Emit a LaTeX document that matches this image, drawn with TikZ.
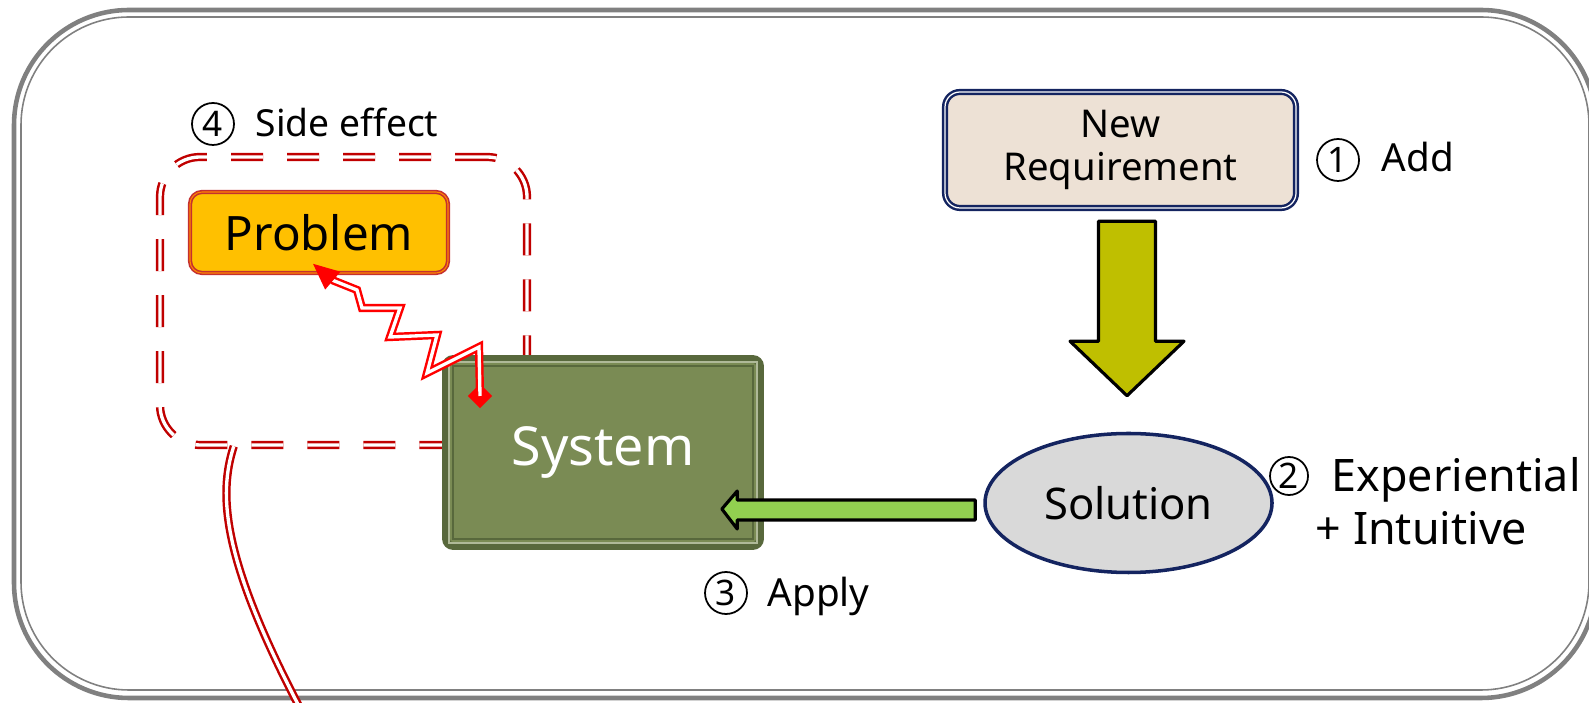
\documentclass[tikz,border=0pt]{standalone}
\usepackage{fontspec}
\setmainfont{Noto Sans}
\usetikzlibrary{arrows.meta,positioning,calc,shapes.geometric}

\definecolor{framegray}{RGB}{128,128,128}
\definecolor{reqfill}{RGB}{237,225,213}
\definecolor{navy}{RGB}{20,36,96}
\definecolor{probfill}{RGB}{255,192,0}
\definecolor{probedge}{RGB}{196,48,48}
\definecolor{sysfill}{RGB}{122,139,84}
\definecolor{sysedge}{RGB}{88,104,60}
\definecolor{arrowyellow}{RGB}{191,191,0}
\definecolor{arrowgreen}{RGB}{146,208,80}
\definecolor{solfill}{RGB}{217,217,217}
\definecolor{effectred}{RGB}{192,0,0}

\begin{document}
\begin{tikzpicture}[
        reqbox/.style={draw=navy, line width=0.7pt, double=white, double distance=0.35pt,
            fill=reqfill, rounded corners=0.15cm, minimum width=3.51cm, minimum height=1.16cm,
            align=center, font=\fontsize{10.9}{12.2}\selectfont},
        probbox/.style={draw=probedge, line width=0.45pt, double=probfill!70!red, double distance=0.3pt,
            fill=probfill, rounded corners=0.12cm, minimum width=2.58cm, minimum height=0.81cm,
            font=\fontsize{13.5}{16}\selectfont},
        sysbox/.style={draw=sysedge, line width=2.2pt, fill=sysfill, rounded corners=2pt,
            minimum width=3.14cm, minimum height=1.87cm, text=white,
            font=\fontsize{15.3}{18}\selectfont},
        solnode/.style={ellipse, draw=navy, line width=1pt, fill=solfill, inner sep=0pt,
            minimum width=2.87cm, minimum height=1.39cm, font=\fontsize{12.4}{14}\selectfont},
        effectbox/.style={draw=effectred, line width=0.7pt, double=white, double distance=0.95pt,
            dash pattern=on 0.32cm off 0.24cm, rounded corners=0.4cm,
            minimum width=3.67cm, minimum height=2.88cm},
        effectline/.style={draw=red, line width=0.7pt, double=white, double distance=0.95pt},
        blockarrow/.style={draw=black, line width=0.9pt, line join=round},
        stepnum/.style={circle, draw, line width=0.5pt, minimum size=0.42cm, inner sep=0pt,
            font=\fontsize{10}{12}\selectfont},
        steplabel/.style={anchor=base west, inner sep=0pt}
    ]
    \useasboundingbox (0,0) rectangle (15.89,7.02);

    % Outer frame
    \draw[framegray, line width=1.3pt, rounded corners=1.15cm] (0.14,0.04) rectangle (15.96,6.92);
    \draw[framegray, line width=0.45pt, rounded corners=1.08cm] (0.21,0.12) rectangle (15.89,6.85);

    % Side effect region
    \node[effectbox] (effect) at (3.435,4.01) {};
    \node[probbox] (prob) at (3.19,4.695) {Problem};
    \draw[draw=effectred, line width=0.7pt, double=white, double distance=0.95pt]
        ($(effect.south west)+(0.75,0)$) .. controls (2.18,2.07) and (2.22,1.42) .. (3.02,-0.10);

    % System
    \node[sysbox] (sys) at (6.03,2.495) {System};
    \draw[sysfill!60!white, line width=0.6pt] ($(sys.south west)+(0.07,0.07)$) rectangle ($(sys.north east)+(-0.07,-0.07)$);
    \draw[sysedge, line width=0.6pt] ($(sys.south west)+(0.11,0.11)$) rectangle ($(sys.north east)+(-0.11,-0.11)$);

    % Requirement and solution
    \node[reqbox] (req) at (11.205,5.52) {New\\Requirement};
    \node[solnode] (sol) at (11.285,1.99) {Solution};

    % Add: block arrow from requirement down to solution
    \coordinate (addtop) at ($(req.south)+(0.065,-0.12)$);
    \draw[blockarrow, fill=arrowyellow] (addtop) ++(-0.285,0) -- ++(0.57,0) -- ++(0,-1.20)
        -- ++(0.285,0) -- ($(sol.north)+(-0.015,0.36)$) -- ($(addtop)+(-0.57,-1.20)$)
        -- ++(0.285,0) -- cycle;

    % Apply: block arrow from solution to system
    \coordinate (applyend) at ($(sol.west)+(-0.08,-0.07)$);
    \draw[blockarrow, fill=arrowgreen] (applyend) ++(0,0.10) -- ++(-2.38,0) -- ++(0,0.09)
        -- ($(sys.east)+(-0.42,-0.565)$) -- ($(applyend)+(-2.38,-0.19)$) -- ++(0,0.09)
        -- ++(2.38,0) -- cycle;

    % Side effect: from system up to problem
    \node[diamond, fill=red, inner sep=0pt, minimum size=0.25cm] (fxstart) at (4.80,3.06) {};
    \draw[effectline, line join=miter] (fxstart.center) -- (4.79,3.55) -- (4.53,3.42) -- (4.27,3.29)
        -- (4.37,3.67) -- (3.90,3.65) -- (4.00,3.94) -- (3.62,3.94) -- (3.57,4.12) -- (3.32,4.22);
    \draw[red, line width=0.6pt, -{Triangle[length=0.26cm,width=0.23cm]}] (3.32,4.22) -- ([xshift=-0.06cm,yshift=0.10cm]prob.south);

    % Step labels
    \node[stepnum] (n4) at (2.13,5.78) {4};
    \node[steplabel, font=\fontsize{10.6}{13}\selectfont] at (2.55,5.65) {Side effect};
    \node[stepnum] (n1) at (13.38,5.42) {1};
    \node[steplabel, font=\fontsize{11}{13}\selectfont] at (13.81,5.30) {Add};
    \node[stepnum, minimum size=0.38cm] (n2) at (12.89,2.26) {2};
    \node[steplabel, font=\fontsize{12.75}{14}\selectfont] at (13.31,2.10) {Experiential};
    \node[steplabel, font=\fontsize{12.75}{14}\selectfont] at (13.15,1.57) {+ Intuitive};
    \node[stepnum] (n3) at (7.26,1.09) {3};
    \node[steplabel, font=\fontsize{11}{13}\selectfont] at (7.67,0.95) {Apply};
\end{tikzpicture}
\end{document}
